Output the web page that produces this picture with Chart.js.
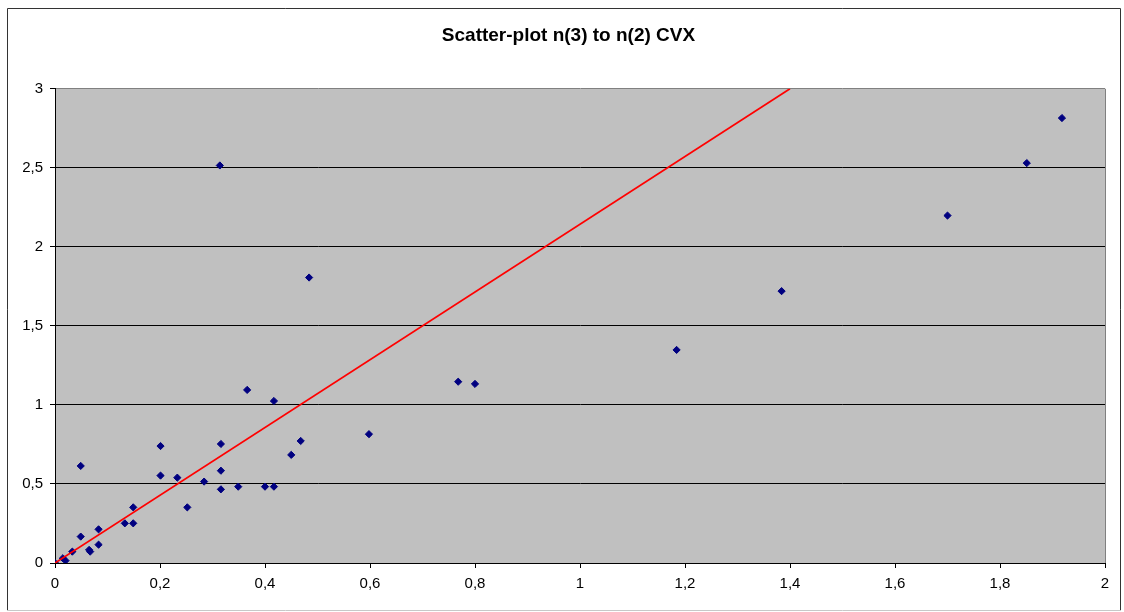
<!DOCTYPE html>
<html>
<head>
<meta charset="utf-8">
<script src="https://cdn.jsdelivr.net/npm/chart.js@4.4.1/dist/chart.umd.min.js"></script>
<style>
  html, body { margin: 0; padding: 0; background: #fff; overflow: hidden; }
  canvas { display: block; }
</style>
</head>
<body>
<canvas id="scatter" width="1124" height="612"></canvas>
<script>
// n(2) values on x, n(3) values on y
const xVals = [0, 0.015, 0.02, 0.033, 0.049, 0.049, 0.065, 0.067, 0.083, 0.083,
    0.133, 0.149, 0.149, 0.201, 0.201, 0.233, 0.252, 0.284, 0.314, 0.316,
    0.316, 0.316, 0.349, 0.366, 0.4, 0.417, 0.417, 0.45, 0.468, 0.484,
    0.598, 0.768, 0.8, 1.184, 1.384, 1.7, 1.851, 1.918];
const yVals = [0, 0.03, 0.015, 0.072, 0.614, 0.167, 0.083, 0.072, 0.213, 0.116,
    0.251, 0.352, 0.251, 0.74, 0.553, 0.54, 0.352, 0.515, 2.515, 0.753,
    0.584, 0.466, 0.483, 1.095, 0.483, 0.483, 1.025, 0.684, 0.772, 1.806,
    0.815, 1.147, 1.133, 1.348, 1.72, 2.198, 2.53, 2.815];

// red reference line
const lineX = [0, 1.4];
const lineY = [0, 3];

const xTicks = [0, 0.2, 0.4, 0.6, 0.8, 1, 1.2, 1.4, 1.6, 1.8, 2];
const yTicks = [0, 0.5, 1, 1.5, 2, 2.5, 3];

const points = xVals.map((x, i) => ({ x: x, y: yVals[i] }));
const linePts = lineX.map((x, i) => ({ x: x, y: lineY[i] }));

const commaNum = v => String(v).replace('.', ',');

// grey plot background, grey right edge and the outer frame
const plotBox = {
    id: 'plotBox',
    afterLayout(chart) {
        // center the title a bit further right, over the frame
        if (chart.titleBlock) chart.titleBlock.left += 32;
    },
    beforeDraw(chart) {
        const { ctx, chartArea: a } = chart;
        ctx.save();
        ctx.fillStyle = '#fff';
        ctx.fillRect(0, 0, chart.width, chart.height);
        ctx.fillStyle = '#c0c0c0';
        ctx.fillRect(a.left, a.top, a.right - a.left, a.bottom - a.top);
        ctx.restore();
    },
    beforeDatasetsDraw(chart) {
        const { ctx, chartArea: a } = chart;
        ctx.save();
        ctx.strokeStyle = '#808080';
        ctx.lineWidth = 1;
        ctx.beginPath();
        ctx.moveTo(Math.round(a.right) + 0.5, a.top);
        ctx.lineTo(Math.round(a.right) + 0.5, a.bottom);
        ctx.stroke();
        ctx.restore();
    },
    afterDraw(chart) {
        const ctx = chart.ctx;
        ctx.save();
        ctx.lineWidth = 1;
        ctx.strokeStyle = '#333';
        ctx.beginPath();
        ctx.moveTo(7.5, 610);
        ctx.lineTo(7.5, 8.5);
        ctx.lineTo(1120.5, 8.5);
        ctx.lineTo(1120.5, 610);
        ctx.stroke();
        ctx.strokeStyle = '#c8c8c8';
        ctx.beginPath();
        ctx.moveTo(7, 610.5);
        ctx.lineTo(1121, 610.5);
        ctx.stroke();
        ctx.restore();
    }
};

new Chart(document.getElementById('scatter'), {
    type: 'scatter',
    data: {
        datasets: [
            {
                label: 'line',
                data: linePts,
                showLine: true,
                borderColor: '#ff0000',
                borderWidth: 1.7,
                pointRadius: 0,
                fill: false
            },
            {
                label: 'n(3) / n(2)',
                data: points,
                pointStyle: 'rectRot',
                pointRadius: 3.6,
                backgroundColor: '#000080',
                borderColor: '#000080',
                borderWidth: 1
            }
        ]
    },
    options: {
        responsive: false,
        animation: false,
        devicePixelRatio: 1,
        layout: { padding: { left: 0, right: 19, top: 0, bottom: 0 } },
        plugins: {
            legend: { display: false },
            tooltip: { enabled: false },
            title: {
                display: true,
                text: 'Scatter-plot n(3) to n(2) CVX',
                color: '#000',
                font: { family: '"Liberation Sans", Arial, sans-serif', size: 19, weight: 'bold' },
                padding: { top: 24, bottom: 42 }
            }
        },
        scales: {
            x: {
                type: 'linear',
                min: 0,
                max: 2,
                afterBuildTicks: s => { s.ticks = xTicks.map(v => ({ value: v })); },
                afterFit: s => { s.height = 49; },
                grid: {
                    drawOnChartArea: false,
                    drawTicks: true,
                    tickLength: 5,
                    tickColor: '#000'
                },
                border: { color: '#000', width: 1 },
                ticks: {
                    color: '#000',
                    padding: 7,
                    maxRotation: 0,
                    autoSkip: false,
                    font: { family: '"Liberation Sans", Arial, sans-serif', size: 15 },
                    callback: v => commaNum(v)
                }
            },
            y: {
                type: 'linear',
                min: 0,
                max: 3,
                afterBuildTicks: s => { s.ticks = yTicks.map(v => ({ value: v })); },
                afterFit: s => { s.width = 55; },
                grid: {
                    color: c => (c.tick && c.tick.value === 3 ? '#808080' : '#000'),
                    drawTicks: true,
                    tickLength: 5,
                    tickColor: '#000'
                },
                border: { color: '#000', width: 1 },
                ticks: {
                    color: '#000',
                    padding: 7,
                    autoSkip: false,
                    font: { family: '"Liberation Sans", Arial, sans-serif', size: 15 },
                    callback: v => commaNum(v)
                }
            }
        }
    },
    plugins: [plotBox]
});
</script>
</body>
</html>
